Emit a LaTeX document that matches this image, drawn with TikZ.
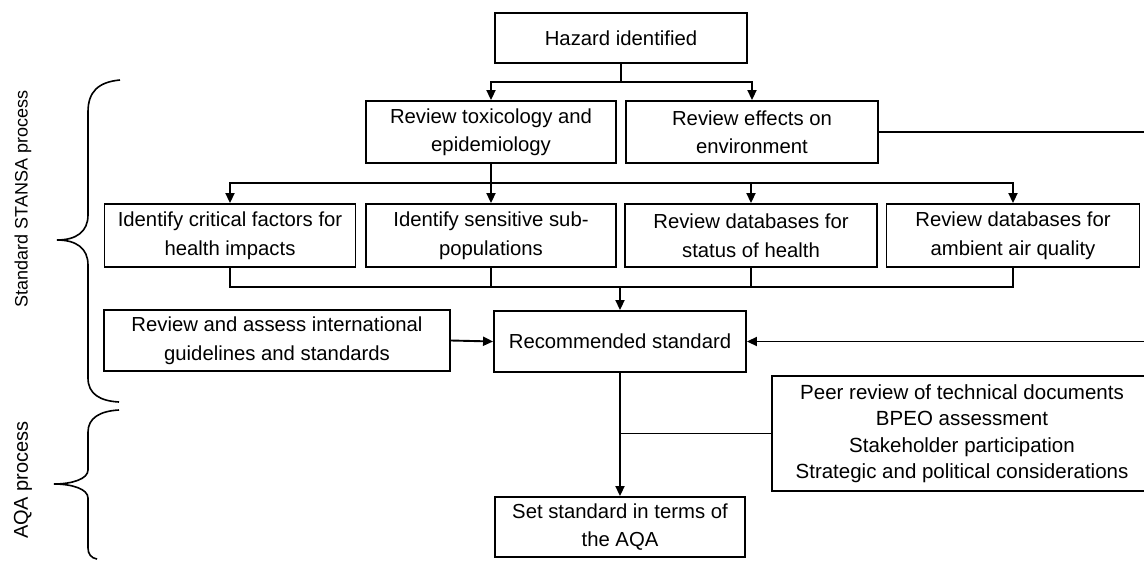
\documentclass[tikz,border=0pt]{standalone}
\usepackage{fontspec}
\setmainfont{Liberation Sans}
\usetikzlibrary{arrows.meta}
\begin{document}
\begin{tikzpicture}[x=1pt,y=-1pt,
  box/.style={draw, line width=1.9pt, inner sep=0pt, align=center, font=\fontsize{20.3}{28.5}\selectfont},
  arr/.style={-{Triangle[length=10pt,width=9pt]}},
  ln/.style={line width=1.9pt},
  brace/.style={line width=1.6pt},
  lbl/.style={rotate=90, inner sep=0pt}]
\useasboundingbox (0,0) rectangle (1144,560);
% nodes
\node[box, minimum width=252pt, minimum height=50pt] (haz) at (621,38) {Hazard identified};
\node[box, minimum width=250pt, minimum height=62pt] (tox) at (491,132) {Review toxicology and\\epidemiology};
\node[box, minimum width=252pt, minimum height=62pt] (env) at (752,132) {Review effects on\\environment};
\node[box, minimum width=251pt, minimum height=63pt] (b1) at (230,235.5) {Identify critical factors for\\health impacts};
\node[box, minimum width=250pt, minimum height=63pt] (b2) at (491,235.5) {Identify sensitive sub-\\populations};
\node[box, minimum width=252pt, minimum height=63pt] (b3) at (751,235.5) {Review databases for\\status of health};
\node[box, minimum width=253pt, minimum height=63pt] (b4) at (1013,235.5) {Review databases for\\ambient air quality};
\node[box, minimum width=346pt, minimum height=61pt] (ra) at (277,340.5) {Review and assess international\\guidelines and standards};
\node[box, minimum width=252pt, minimum height=61pt] (rec) at (620,341.5) {Recommended standard};
\node[box, minimum width=250pt, minimum height=60pt] (set) at (620,527) {Set standard in terms of\\the AQA};
\node[box, minimum width=380pt, minimum height=115pt, font=\fontsize{20.5}{26.5}\selectfont] (peer) at (962,433.5) {Peer review of technical documents\\BPEO assessment\\Stakeholder participation\\Strategic and political considerations};
% side labels
\node[lbl, font=\fontsize{18}{22}\selectfont] (l1) at (23,199) {Standard STANSA process};
\node[lbl, font=\fontsize{20}{24}\selectfont] (l2) at (23,480) {AQA process};
% junction coordinates
\coordinate (hb) at (621,82);
\coordinate (tb) at (491,183);
\coordinate (rb) at (620,287);
\coordinate (pj) at (620,433.5);
\coordinate (rc1) at (1152,132);
\coordinate (rc2) at (1152,341.5);
% connectors
\draw[ln] (haz.south) -- (hb);
\draw[ln,arr] (hb) -| (tox.north);
\draw[ln,arr] (hb) -| (env.north);
\draw[ln] (tox.south) -- (tb);
\draw[ln,arr] (tb) -| (b1.north);
\draw[ln,arr] (tb) -- (b2.north);
\draw[ln,arr] (tb) -| (b3.north);
\draw[ln,arr] (tb) -| (b4.north);
\draw[ln] (b1.south) |- (rb);
\draw[ln] (b2.south) |- (rb);
\draw[ln] (b3.south) |- (rb);
\draw[ln] (b4.south) |- (rb);
\draw[ln,arr] (rb) -- (rec.north);
\draw[ln,arr] (ra.east) -- (rec.west);
\draw[ln] (env.east) -- (rc1) -- (rc2);
\draw[ln,arr] (rc2) -- (rec.east);
\draw[ln,arr] (rec.south) -- (set.north);
\draw[ln] (peer.west) -- (pj);
% braces
\draw[brace] (120,80) .. controls (98,82) and (88,92) .. (88,112) -- (88,215) .. controls (88,232) and (76,240) .. (57,240) .. controls (76,240) and (88,248) .. (88,265) -- (88,378) .. controls (88,394) and (100,401) .. (119,402);
\draw[brace] (119,410) .. controls (100,411) and (88,418) .. (88,432) -- (88,470) .. controls (88,479) and (72,484) .. (54,484) .. controls (72,484) and (88,489) .. (88,498) -- (88,548) .. controls (88,554) and (91,558) .. (97,559);
\end{tikzpicture}
\end{document}
